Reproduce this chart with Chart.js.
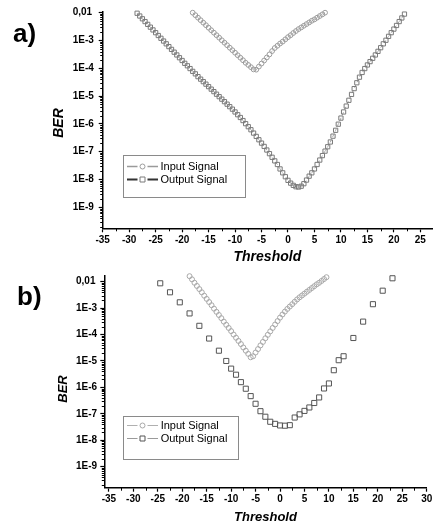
<!DOCTYPE html>
<html><head><meta charset="utf-8">
<script src="https://cdn.jsdelivr.net/npm/chart.js@4.4.1/dist/chart.umd.min.js"></script>
<style>
html,body{margin:0;padding:0;background:#fff;}
#wrap{position:relative;width:437px;height:525px;overflow:hidden;background:#fff;}
canvas{position:absolute;left:0;}
#ca{top:0;}
#cb{top:262px;}
.lbl{position:absolute;font-family:"Liberation Sans",Arial,sans-serif;font-weight:bold;color:#000;line-height:1;white-space:nowrap;}
.panel{font-size:26px;}
.ber{font-style:italic;transform:translate(-50%,-50%) rotate(-90deg);}
</style></head><body>
<div id="wrap">
<canvas id="ca" width="437" height="270"></canvas>
<canvas id="cb" width="437" height="263"></canvas>
<div class="lbl panel" style="left:13px;top:20px;">a)</div>
<div class="lbl panel" style="left:17px;top:283px;">b)</div>
<div class="lbl ber" style="left:57.5px;top:123px;font-size:14px;">BER</div>
<div class="lbl ber" style="left:61.5px;top:389px;font-size:13px;">BER</div>
</div>
<script>
// ---- tick labels ----
const xTickValuesA = [-35,-30,-25,-20,-15,-10,-5,0,5,10,15,20,25];
const xTickValuesB = [-35,-30,-25,-20,-15,-10,-5,0,5,10,15,20,25,30];
const yTickValues = [1e-9,1e-8,1e-7,1e-6,1e-5,1e-4,1e-3,1e-2];
const yTickLabels = ['1E-9','1E-8','1E-7','1E-6','1E-5','1E-4','1E-3','0,01'];
const seriesLabels = ['Input Signal','Output Signal'];
const xTitle = 'Threshold';

// ---- panel a) ----
const inputA_x = [-18,-17.5,-17,-16.5,-16,-15.5,-15,-14.5,-14,-13.5,-13,-12.5,-12,-11.5,-11,-10.5,-10,-9.5,-9,-8.5,-8,-7.5,-7,-6.5,-6,-5.5,-5,-4.5,-4,-3.5,-3,-2.5,-2,-1.5,-1,-0.5,0,0.5,1,1.5,2,2.5,3,3.5,4,4.5,5,5.5,6,6.5,7];
const inputA_ber = [1.00e-2,0.813e-2,0.661e-2,0.537e-2,0.437e-2,0.355e-2,0.288e-2,0.234e-2,0.191e-2,0.155e-2,0.126e-2,0.102e-2,0.832e-3,0.676e-3,0.550e-3,0.447e-3,0.363e-3,0.295e-3,0.240e-3,0.195e-3,0.158e-3,0.132e-3,0.110e-3,0.912e-4,0.891e-4,0.115e-3,0.148e-3,0.191e-3,0.245e-3,0.316e-3,0.417e-3,0.537e-3,0.646e-3,0.776e-3,0.912e-3,0.110e-2,0.132e-2,0.155e-2,0.186e-2,0.219e-2,0.257e-2,0.295e-2,0.339e-2,0.389e-2,0.447e-2,0.513e-2,0.575e-2,0.661e-2,0.759e-2,0.871e-2,1.00e-2];

const outputA_x = [-28.5,-28,-27.5,-27,-26.5,-26,-25.5,-25,-24.5,-24,-23.5,-23,-22.5,-22,-21.5,-21,-20.5,-20,-19.5,-19,-18.5,-18,-17.5,-17,-16.5,-16,-15.5,-15,-14.5,-14,-13.5,-13,-12.5,-12,-11.5,-11,-10.5,-10,-9.5,-9,-8.5,-8,-7.5,-7,-6.5,-6,-5.5,-5,-4.5,-4,-3.5,-3,-2.5,-2,-1.5,-1,-0.5,0,0.5,1,1.5,2,2.5,3,3.5,4,4.5,5,5.5,6,6.5,7,7.5,8,8.5,9,9.5,10,10.5,11,11.5,12,12.5,13,13.5,14,14.5,15,15.5,16,16.5,17,17.5,18,18.5,19,19.5,20,20.5,21,21.5,22];
const outputA_ber = [
 0.955e-2,0.759e-2,0.603e-2,0.479e-2,0.380e-2,0.302e-2,0.240e-2,0.191e-2,0.151e-2,0.120e-2,
 0.955e-3,0.759e-3,0.603e-3,0.479e-3,0.380e-3,0.302e-3,0.240e-3,0.191e-3,0.151e-3,0.123e-3,
 0.977e-4,0.776e-4,0.631e-4,0.501e-4,0.407e-4,0.331e-4,0.269e-4,0.219e-4,0.178e-4,0.145e-4,
 0.117e-4,0.955e-5,0.776e-5,0.631e-5,0.513e-5,0.417e-5,0.339e-5,0.269e-5,0.214e-5,0.170e-5,
 0.132e-5,0.102e-5,0.794e-6,0.617e-6,0.468e-6,0.355e-6,0.269e-6,0.204e-6,0.155e-6,0.115e-6,
 0.851e-7,0.631e-7,0.468e-7,0.347e-7,0.240e-7,0.174e-7,0.126e-7,0.933e-8,0.741e-8,0.617e-8,
 0.550e-8,0.537e-8,0.575e-8,0.708e-8,0.955e-8,0.132e-7,0.174e-7,0.240e-7,0.347e-7,0.501e-7,
 0.724e-7,0.105e-6,0.151e-6,0.224e-6,0.363e-6,0.589e-6,0.977e-6,0.162e-5,0.269e-5,0.437e-5,
 0.708e-5,0.115e-4,0.186e-4,0.302e-4,0.479e-4,0.708e-4,0.977e-4,0.132e-3,0.174e-3,0.229e-3,
 0.302e-3,0.407e-3,0.550e-3,0.759e-3,0.102e-2,0.141e-2,0.191e-2,0.257e-2,0.347e-2,0.479e-2,
 0.646e-2,0.891e-2];

// ---- panel b) ----
const inputB_x = [-18.5,-18,-17.5,-17,-16.5,-16,-15.5,-15,-14.5,-14,-13.5,-13,-12.5,-12,-11.5,-11,-10.5,-10,-9.5,-9,-8.5,-8,-7.5,-7,-6.5,-6,-5.5,-5,-4.5,-4,-3.5,-3,-2.5,-2,-1.5,-1,-0.5,0,0.5,1,1.5,2,2.5,3,3.5,4,4.5,5,5.5,6,6.5,7,7.5,8,8.5,9,9.5];
const inputB_ber = [
 1.62e-2,1.23e-2,0.912e-2,0.692e-2,0.525e-2,0.398e-2,0.295e-2,0.224e-2,0.170e-2,0.129e-2,
 0.955e-3,0.724e-3,0.550e-3,0.417e-3,0.309e-3,0.234e-3,0.178e-3,0.135e-3,1.00e-4,0.759e-4,
 0.575e-4,0.437e-4,0.324e-4,0.245e-4,0.186e-4,0.138e-4,0.151e-4,0.209e-4,0.282e-4,0.389e-4,
 0.525e-4,0.724e-4,0.977e-4,0.132e-3,0.178e-3,0.240e-3,0.324e-3,0.437e-3,0.575e-3,0.741e-3,
 0.933e-3,0.115e-2,0.141e-2,0.174e-2,0.214e-2,0.257e-2,0.302e-2,0.355e-2,0.417e-2,0.490e-2,
 0.575e-2,0.676e-2,0.794e-2,0.912e-2,1.07e-2,1.26e-2,1.48e-2];

const outputB_x = [-24.5,-22.5,-20.5,-18.5,-16.5,-14.5,-12.5,-11,-10,-9,-8,-7,-6,-5,-4,-3,-2,-1,0,1,2,3,4,5,6,7,8,9,10,11,12,13,15,17,19,21,23];
const outputB_ber = [0.871e-2,0.398e-2,0.166e-2,0.631e-3,0.214e-3,0.708e-4,0.245e-4,1.00e-5,0.513e-5,0.302e-5,0.158e-5,0.891e-6,0.468e-6,0.240e-6,0.126e-6,0.776e-7,0.501e-7,0.417e-7,0.363e-7,0.355e-7,0.372e-7,0.724e-7,0.955e-7,0.129e-6,0.174e-6,0.257e-6,0.417e-6,0.912e-6,0.141e-5,0.447e-5,0.107e-4,0.151e-4,0.741e-4,0.309e-3,0.141e-2,0.457e-2,1.35e-2];

// ---------------------------------------------------------------
const FAM = '"Liberation Sans", Arial, Helvetica, sans-serif';
Chart.defaults.font.family = FAM;
Chart.defaults.color = '#000';
const pts = (xs, ys) => xs.map((x, i) => ({x: x, y: ys[i]}));

const minorTicks = {
  id: 'minorTicks',
  afterDraw(chart, args, o) {
    const ctx = chart.ctx, xs = chart.scales.x, ys = chart.scales.y;
    ctx.save();
    ctx.strokeStyle = '#000';
    ctx.lineWidth = 1;
    ctx.beginPath();
    const step = 5;
    for (let v = Math.ceil(xs.min / step) * step - step / 2; v <= xs.max; v += step) {
      if (v < xs.min) continue;
      const px = Math.round(xs.getPixelForValue(v)) + 0.5;
      ctx.moveTo(px, xs.top);
      ctx.lineTo(px, xs.top + 3);
    }
    for (let n = -11; n <= -1; n++) {
      for (let k = 2; k <= 9; k++) {
        const v = k * Math.pow(10, n);
        if (v < ys.min || v > ys.max) continue;
        const py = Math.round(ys.getPixelForValue(v)) + 0.5;
        ctx.moveTo(ys.right - 2.5, py);
        ctx.lineTo(ys.right, py);
      }
    }
    ctx.stroke();
    ctx.restore();
  }
};

const boxLegend = {
  id: 'boxLegend',
  afterDraw(chart, args, o) {
    const ctx = chart.ctx;
    ctx.save();
    ctx.strokeStyle = o.borderColor;
    ctx.lineWidth = 1;
    ctx.strokeRect(o.left + 0.5, o.top + 0.5, o.width, o.height);
    ctx.font = '11px ' + FAM;
    ctx.textBaseline = 'middle';
    ctx.textAlign = 'left';
    chart.data.datasets.forEach((ds, i) => {
      const y = Math.round(o.top + o.firstRow + i * o.rowGap) + 0.5;
      const x0 = o.left + 4, xm = o.left + 19.5, x1 = o.left + 35;
      ctx.strokeStyle = o.lineColors[i];
      ctx.lineWidth = o.lineWidths[i];
      ctx.beginPath();
      ctx.moveTo(x0, y); ctx.lineTo(xm - 5, y);
      ctx.moveTo(xm + 5, y); ctx.lineTo(x1, y);
      ctx.stroke();
      ctx.strokeStyle = ds.pointBorderColor;
      ctx.lineWidth = 1;
      ctx.beginPath();
      if (ds.pointStyle === 'circle') {
        ctx.arc(xm, y, 2.5, 0, Math.PI * 2);
      } else {
        ctx.rect(xm - 2.5, y - 2.5, 5, 5);
      }
      ctx.stroke();
      ctx.fillStyle = '#000';
      ctx.fillText(ds.label, o.left + o.textX, y);
    });
    ctx.restore();
  }
};

function axisCfg(p) {
  return {
    x: {
      type: 'linear', min: p.xmin, max: p.xmax,
      afterBuildTicks: s => { s.ticks = p.xticks.map(v => ({value: v})); },
      afterFit: s => { s.height = p.xh; },
      ticks: {font: {size: 10, weight: 'bold'}, color: '#000', padding: p.xpad, maxRotation: 0, autoSkip: false},
      grid: {display: true, drawOnChartArea: false, drawTicks: true, tickLength: 4, tickColor: '#000', tickWidth: 1.2},
      border: {display: true, color: '#000', width: 1.5},
      title: {display: true, text: xTitle, color: '#000',
        font: {size: p.tsize, weight: 'bold', style: 'italic'}, padding: {top: 0, bottom: p.tpad}}
    },
    y: {
      type: 'logarithmic', min: p.ymin, max: p.ymax,
      afterBuildTicks: s => { s.ticks = yTickValues.map(v => ({value: v})); },
      afterFit: s => { s.width = p.yw; },
      ticks: {font: {size: 10, weight: 'bold'}, color: '#000', crossAlign: 'far', autoSkip: false,
        callback: (v, i) => yTickLabels[i]},
      grid: {display: true, drawOnChartArea: false, drawTicks: true, tickLength: 4, tickColor: '#000', tickWidth: 1.2},
      border: {display: true, color: '#000', width: 1.5}
    }
  };
}

new Chart(document.getElementById('ca'), {
  type: 'scatter',
  data: {datasets: [
    {label: seriesLabels[0], data: pts(inputA_x, inputA_ber), pointStyle: 'circle', pointRadius: 2.4,
     pointBorderColor: '#9c9c9c', pointBackgroundColor: 'rgba(255,255,255,0)', pointBorderWidth: 1,
     showLine: true, borderColor: '#bdbdbd', borderWidth: 1, borderDash: [3, 3], clip: false},
    {label: seriesLabels[1], data: pts(outputA_x, outputA_ber), pointStyle: 'rect', pointRadius: 3,
     pointBorderColor: '#7a7a7a', pointBackgroundColor: 'rgba(255,255,255,0)', pointBorderWidth: 1,
     showLine: true, borderColor: '#a8a8a8', borderWidth: 1, borderDash: [3, 3], clip: false}
  ]},
  options: {
    responsive: false, animation: false, devicePixelRatio: 1, events: [],
    layout: {padding: {left: 72.7, right: 0, top: 12.1, bottom: 0}},
    plugins: {legend: {display: false}, tooltip: {enabled: false},
      boxLegend: {left: 123, top: 155, width: 122, height: 42, firstRow: 10.7, rowGap: 13.6, textX: 37.5,
        borderColor: '#8a8a8a', lineColors: ['#9a9a9a', '#333'], lineWidths: [1.5, 2]}},
    scales: axisCfg({xmin: -35, xmax: 27.2, xticks: xTickValuesA, xh: 41.7, xpad: 2, tsize: 14, tpad: 4.1,
      ymin: 1.76e-10, ymax: 0.0105, yw: 30})
  },
  plugins: [minorTicks, boxLegend]
});

new Chart(document.getElementById('cb'), {
  type: 'scatter',
  data: {datasets: [
    {label: seriesLabels[0], data: pts(inputB_x, inputB_ber), pointStyle: 'circle', pointRadius: 2.5,
     pointBorderColor: '#a8a8a8', pointBackgroundColor: 'rgba(255,255,255,0)', pointBorderWidth: 1,
     showLine: false, clip: false},
    {label: seriesLabels[1], data: pts(outputB_x, outputB_ber), pointStyle: 'rect', pointRadius: 3.6,
     pointBorderColor: '#555', pointBackgroundColor: 'rgba(255,255,255,0)', pointBorderWidth: 1,
     showLine: false, clip: false}
  ]},
  options: {
    responsive: false, animation: false, devicePixelRatio: 1, events: [],
    layout: {padding: {left: 76, right: 10.3, top: 14, bottom: 0}},
    plugins: {legend: {display: false}, tooltip: {enabled: false},
      boxLegend: {left: 123, top: 154, width: 115, height: 43, firstRow: 9, rowGap: 13.4, textX: 37.7,
        borderColor: '#8a8a8a', lineColors: ['#b0b0b0', '#9a9a9a'], lineWidths: [1, 1]}},
    scales: axisCfg({xmin: -35.94, xmax: 30, xticks: xTickValuesB, xh: 37.3, xpad: 1.5, tsize: 13, tpad: 0.2,
      ymin: 1.6e-10, ymax: 0.01645, yw: 28.3})
  },
  plugins: [minorTicks, boxLegend]
});
</script>
</body></html>
